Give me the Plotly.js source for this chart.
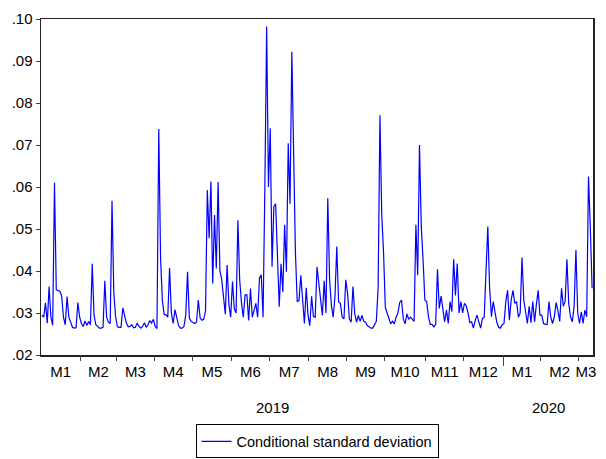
<!DOCTYPE html>
<html>
<head>
<meta charset="utf-8">
<script src="https://cdn.plot.ly/plotly-3.0.1.min.js"></script>
<style>html,body{margin:0;padding:0;background:#fff;}#chart{width:606px;height:459px;}</style>
</head>
<body>
<div id="chart"></div>
<script>
// Month labels and number of observations per month (Jan 2019 .. Mar 2020)
const monthLabels = ['M1','M2','M3','M4','M5','M6','M7','M8','M9','M10','M11','M12','M1','M2','M3'];
const monthObs    = [22,20,21,21,22,21,22,21,21,23,21,22,21,21,8];
const yearLabels  = ['2019','2020'];
const yearMonths  = [12,3];
const seriesName  = 'Conditional standard deviation';
const yTickVals   = [0.02,0.03,0.04,0.05,0.06,0.07,0.08,0.09,0.10];
const yTickText   = ['.02','.03','.04','.05','.06','.07','.08','.09','.10'];

const jan19 = [0.0295,0.0290,0.0324,0.0276,0.0363,0.0290,0.0271,0.0610,0.0355,0.0354,0.0352,0.0340,0.0290,0.0272,0.0339,0.0290,0.0275,0.0266,0.0264,0.0265,0.0325,0.0290];
const feb19 = [0.0275,0.0268,0.0281,0.0270,0.0280,0.0272,0.0417,0.0295,0.0272,0.0267,0.0264,0.0264,0.0266,0.0377,0.0290,0.0278,0.0275,0.0567,0.0347,0.0291];
const mar19 = [0.0267,0.0266,0.0266,0.0312,0.0290,0.0276,0.0267,0.0268,0.0272,0.0265,0.0266,0.0276,0.0268,0.0264,0.0268,0.0277,0.0266,0.0272,0.0282,0.0276,0.0285];
const apr19 = [0.0268,0.0263,0.0738,0.0430,0.0330,0.0296,0.0296,0.0290,0.0407,0.0300,0.0275,0.0308,0.0285,0.0270,0.0264,0.0264,0.0268,0.0295,0.0398,0.0288,0.0280];
const may19 = [0.0278,0.0275,0.0278,0.0331,0.0288,0.0283,0.0285,0.0305,0.0593,0.0478,0.0613,0.0370,0.0533,0.0406,0.0612,0.0400,0.0380,0.0335,0.0297,0.0414,0.0320,0.0290];
const jun19 = [0.0375,0.0310,0.0300,0.0521,0.0379,0.0324,0.0290,0.0343,0.0343,0.0282,0.0358,0.0290,0.0310,0.0323,0.0290,0.0383,0.0391,0.0290,0.0600,0.0982,0.0600];
const jul19 = [0.0740,0.0410,0.0553,0.0560,0.0426,0.0315,0.0417,0.0350,0.0510,0.0398,0.0704,0.0560,0.0922,0.0630,0.0445,0.0327,0.0330,0.0390,0.0327,0.0275,0.0360,0.0295];
const aug19 = [0.0270,0.0340,0.0292,0.0290,0.0410,0.0370,0.0333,0.0294,0.0377,0.0300,0.0573,0.0380,0.0318,0.0290,0.0340,0.0458,0.0327,0.0323,0.0290,0.0286,0.0379];
const sep19 = [0.0347,0.0286,0.0278,0.0363,0.0298,0.0278,0.0294,0.0280,0.0294,0.0280,0.0278,0.0270,0.0266,0.0264,0.0264,0.0272,0.0280,0.0360,0.0771,0.0535,0.0445];
const oct19 = [0.0313,0.0300,0.0290,0.0274,0.0280,0.0274,0.0290,0.0300,0.0325,0.0331,0.0286,0.0274,0.0298,0.0285,0.0290,0.0285,0.0280,0.0510,0.0390,0.0700,0.0505,0.0426,0.0331];
const nov19 = [0.0327,0.0291,0.0273,0.0273,0.0267,0.0273,0.0404,0.0311,0.0340,0.0307,0.0279,0.0307,0.0275,0.0327,0.0303,0.0428,0.0342,0.0418,0.0300,0.0327,0.0300];
const dec19 = [0.0323,0.0317,0.0300,0.0277,0.0279,0.0264,0.0283,0.0295,0.0279,0.0264,0.0287,0.0290,0.0400,0.0506,0.0360,0.0291,0.0327,0.0305,0.0278,0.0266,0.0264,0.0272];
const jan20 = [0.0275,0.0327,0.0354,0.0283,0.0331,0.0354,0.0323,0.0327,0.0290,0.0300,0.0432,0.0331,0.0300,0.0275,0.0316,0.0277,0.0327,0.0279,0.0320,0.0354,0.0295];
const feb20 = [0.0295,0.0275,0.0273,0.0273,0.0327,0.0291,0.0275,0.0291,0.0325,0.0305,0.0280,0.0359,0.0316,0.0327,0.0428,0.0323,0.0291,0.0279,0.0316,0.0450,0.0300];
const mar20 = [0.0275,0.0303,0.0275,0.0307,0.0291,0.0625,0.0505,0.0359];

const values = [].concat(jan19,feb19,mar19,apr19,may19,jun19,jul19,aug19,sep19,oct19,nov19,dec19,jan20,feb20,mar20);
const obsIndex = values.map((v,i)=>i);

// month boundaries
const cum = [0];
monthObs.forEach(n=>cum.push(cum[cum.length-1]+n));
const boundaries = cum.slice(1, cum.length-1).map(c=>c-0.5);
const midpoints = monthLabels.map((m,k)=>(cum[k]+cum[k+1])/2-0.5);
const yearBoundary = [cum[yearMonths[0]]-0.5];
let startM = 0;
const yearMid = yearMonths.map(n=>{const a=cum[startM], b=cum[startM+n]; startM+=n; return (a+b)/2-0.5;});

const xr = [-0.5, values.length-0.5];
const font = {family:'"Liberation Sans", Arial, sans-serif', size:15, color:'#000'};
const legendFont = {family:'"Liberation Sans", Arial, sans-serif', size:14.5, color:'#000'};

const traces = [
  {x: obsIndex, y: values, type:'scatter', mode:'lines', name: seriesName,
   line:{color:'#0000FF', width:1.2}, hoverinfo:'skip'},
  {x: obsIndex, y: values, type:'scatter', mode:'lines', xaxis:'x2', showlegend:false,
   line:{width:0}, opacity:0, hoverinfo:'skip'},
  {x: obsIndex, y: values, type:'scatter', mode:'lines', xaxis:'x3', showlegend:false,
   line:{width:0}, opacity:0, hoverinfo:'skip'}
];

const layout = {
  width:606, height:459,
  margin:{l:41, r:13, t:19, b:104, autoexpand:false},
  paper_bgcolor:'#fff', plot_bgcolor:'#fff',
  font: font,
  showlegend:true,
  xaxis:{range:xr, tickmode:'array', tickvals:midpoints, ticktext:monthLabels, ticks:'',
         ticklabelstandoff:2, automargin:false,
         showline:true, mirror:true, linecolor:'#222', linewidth:1.5, showgrid:false, zeroline:false,
         tickfont:font},
  xaxis2:{range:xr, overlaying:'x', anchor:'y', side:'bottom', tickmode:'array', tickvals:boundaries,
          ticks:'outside', ticklen:5, tickwidth:1, tickcolor:'#444', showticklabels:false,
          showline:false, showgrid:false, zeroline:false},
  xaxis3:{range:xr, overlaying:'x', anchor:'y', side:'bottom', tickmode:'array', tickvals:yearBoundary,
          ticks:'outside', ticklen:10, tickwidth:1, tickcolor:'#444', showticklabels:false,
          showline:false, showgrid:false, zeroline:false},
  yaxis:{range:[0.02,0.10], tickmode:'array', tickvals:yTickVals, ticktext:yTickText,
         ticks:'outside', ticklen:4, tickcolor:'#444', tickwidth:1, automargin:false,
         showline:true, mirror:true, linecolor:'#222', linewidth:1.5, showgrid:false, zeroline:false,
         tickfont:font},
  annotations: yearLabels.map((t,k)=>({text:t, x:yearMid[k], xref:'x', y:-0.155, yref:'paper',
         showarrow:false, xanchor:'center', yanchor:'middle', font:font})),
  legend:{x:0.5, xanchor:'center', y:-0.308, yanchor:'bottom', orientation:'h',
          bordercolor:'#000', borderwidth:1, bgcolor:'#fff', font:legendFont,
          itemwidth:30, tracegroupgap:0}
};

Plotly.newPlot('chart', traces, layout, {displayModeBar:false, staticPlot:true});
</script>
</body>
</html>
